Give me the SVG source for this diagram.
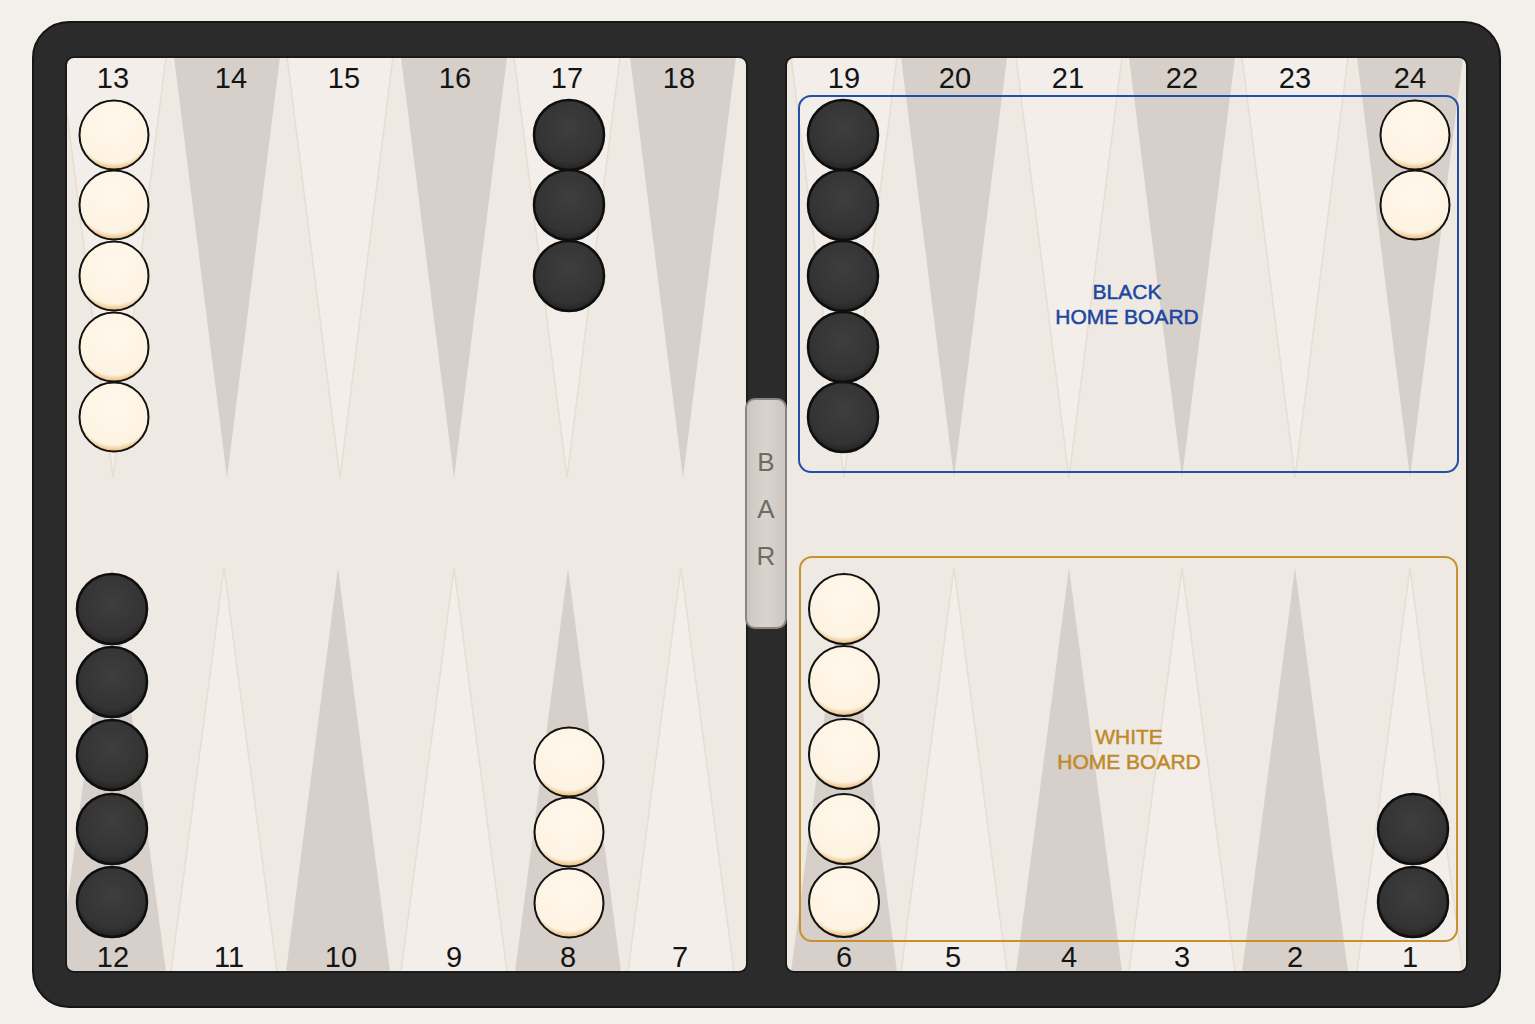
<svg xmlns="http://www.w3.org/2000/svg" width="1535" height="1024" viewBox="0 0 1535 1024">
<defs>
<style>
.num{font-family:"Liberation Sans",Arial,sans-serif;font-size:29px;fill:#141414;text-anchor:middle}
.bar{font-family:"Liberation Sans",Arial,sans-serif;font-size:26px;fill:#6e6a65;text-anchor:middle}
.hb{font-family:"Liberation Sans",Arial,sans-serif;font-size:21px;text-anchor:middle;stroke-width:0.5}
.dk{fill:#d6cfca}
.lt{fill:#f3eee9;stroke:#e6ddd3;stroke-width:1.5}
.cb{fill:url(#gb);stroke:#0e0e0e;stroke-width:2.5}
.cw{fill:url(#gw);stroke:#111;stroke-width:2}
</style>
<radialGradient id="gb" cx="0.5" cy="0.4" r="0.6">
<stop offset="0" stop-color="#3e3e3e"/><stop offset="0.8" stop-color="#333"/><stop offset="1" stop-color="#222"/>
</radialGradient>
<radialGradient id="gw" cx="0.5" cy="0.35" r="0.65">
<stop offset="0" stop-color="#fff8ec"/><stop offset="0.85" stop-color="#fdf3e2"/><stop offset="1" stop-color="#e8b870"/>
</radialGradient>
<linearGradient id="gbar" x1="0" y1="0" x2="1" y2="0">
<stop offset="0" stop-color="#cdc6c0"/><stop offset="0.5" stop-color="#dad4ce"/><stop offset="1" stop-color="#cdc6c0"/>
</linearGradient>
<clipPath id="cl"><rect x="66" y="57" width="681" height="915" rx="8"/></clipPath>
<clipPath id="cr"><rect x="786" y="57" width="681" height="915" rx="8"/></clipPath>
</defs>
<rect width="1535" height="1024" fill="#f3efeb"/>
<g id="frame">
<rect x="33" y="22" width="1467" height="985" rx="36" fill="#2b2b2b" stroke="#151515" stroke-width="2"/>
</g>
<g id="left-board" clip-path="url(#cl)">
<rect x="66" y="57" width="681" height="915" fill="#efe9e4"/>
<polygon class="lt" points="60,57 166,57 113,478"/>
<polygon class="dk" points="174,57 280,57 227,478"/>
<polygon class="lt" points="287,57 393,57 340,478"/>
<polygon class="dk" points="401,57 507,57 454,478"/>
<polygon class="lt" points="514,57 620,57 567,478"/>
<polygon class="dk" points="630,57 736,57 683,478"/>
<polygon class="dk" points="58,972 166,972 112,568"/>
<polygon class="lt" points="171,972 277,972 224,568"/>
<polygon class="dk" points="286,972 390,972 338,568"/>
<polygon class="lt" points="401,972 507,972 454,568"/>
<polygon class="dk" points="515,972 621,972 568,568"/>
<polygon class="lt" points="628,972 734,972 681,568"/>
</g>
<g id="right-board" clip-path="url(#cr)">
<rect x="786" y="57" width="681" height="915" fill="#efe9e4"/>
<polygon class="lt" points="791,57 897,57 844,478"/>
<polygon class="dk" points="901,57 1007,57 954,478"/>
<polygon class="lt" points="1016,57 1122,57 1069,478"/>
<polygon class="dk" points="1129,57 1235,57 1182,478"/>
<polygon class="lt" points="1242,57 1348,57 1295,478"/>
<polygon class="dk" points="1357,57 1463,57 1410,478"/>
<polygon class="dk" points="791,972 897,972 844,568"/>
<polygon class="lt" points="901,972 1007,972 954,568"/>
<polygon class="dk" points="1016,972 1122,972 1069,568"/>
<polygon class="lt" points="1129,972 1235,972 1182,568"/>
<polygon class="dk" points="1242,972 1348,972 1295,568"/>
<polygon class="lt" points="1357,972 1463,972 1410,568"/>
</g>
<g id="board-edges" fill="none" stroke="#1a1a1a" stroke-width="2">
<rect x="66" y="57" width="681" height="915" rx="8"/>
<rect x="786" y="57" width="681" height="915" rx="8"/>
</g>
<g id="bar">
<rect x="746" y="399" width="40" height="229" rx="9" fill="url(#gbar)" stroke="#8a8580" stroke-width="2"/>
<text class="bar" x="766" y="471">B</text>
<text class="bar" x="766" y="518">A</text>
<text class="bar" x="766" y="565">R</text>
</g>
<g id="black-home-board">
<rect x="799" y="96" width="659" height="376" rx="12" fill="none" stroke="#2050a8" stroke-width="2"/>
<text class="hb" x="1127" y="299" fill="#1c47a0" stroke="#1c47a0">BLACK</text>
<text class="hb" x="1127" y="324" fill="#1c47a0" stroke="#1c47a0">HOME BOARD</text>
</g>
<g id="white-home-board">
<rect x="800" y="557" width="657" height="384" rx="12" fill="none" stroke="#c8902e" stroke-width="2"/>
<text class="hb" x="1129" y="744" fill="#c08a2a" stroke="#c08a2a">WHITE</text>
<text class="hb" x="1129" y="769" fill="#c08a2a" stroke="#c08a2a">HOME BOARD</text>
</g>
<g id="point-labels">
<text class="num" x="113" y="88">13</text>
<text class="num" x="231" y="88">14</text>
<text class="num" x="344" y="88">15</text>
<text class="num" x="455" y="88">16</text>
<text class="num" x="567" y="88">17</text>
<text class="num" x="679" y="88">18</text>
<text class="num" x="844" y="88">19</text>
<text class="num" x="955" y="88">20</text>
<text class="num" x="1068" y="88">21</text>
<text class="num" x="1182" y="88">22</text>
<text class="num" x="1295" y="88">23</text>
<text class="num" x="1410" y="88">24</text>
<text class="num" x="113" y="967">12</text>
<text class="num" x="229" y="967">11</text>
<text class="num" x="341" y="967">10</text>
<text class="num" x="454" y="967">9</text>
<text class="num" x="568" y="967">8</text>
<text class="num" x="680" y="967">7</text>
<text class="num" x="844" y="967">6</text>
<text class="num" x="953" y="967">5</text>
<text class="num" x="1069" y="967">4</text>
<text class="num" x="1182" y="967">3</text>
<text class="num" x="1295" y="967">2</text>
<text class="num" x="1410" y="967">1</text>
</g>
<g id="checkers-point-13">
<circle class="cw" cx="114" cy="135" r="34.5"/>
<circle class="cw" cx="114" cy="205" r="34.5"/>
<circle class="cw" cx="114" cy="276" r="34.5"/>
<circle class="cw" cx="114" cy="347" r="34.5"/>
<circle class="cw" cx="114" cy="417" r="34.5"/>
</g>
<g id="checkers-point-17">
<circle class="cb" cx="569" cy="135" r="35"/>
<circle class="cb" cx="569" cy="205" r="35"/>
<circle class="cb" cx="569" cy="276" r="35"/>
</g>
<g id="checkers-point-12">
<circle class="cb" cx="112" cy="609" r="35"/>
<circle class="cb" cx="112" cy="682" r="35"/>
<circle class="cb" cx="112" cy="755" r="35"/>
<circle class="cb" cx="112" cy="829" r="35"/>
<circle class="cb" cx="112" cy="902" r="35"/>
</g>
<g id="checkers-point-8">
<circle class="cw" cx="569" cy="762" r="34.5"/>
<circle class="cw" cx="569" cy="832" r="34.5"/>
<circle class="cw" cx="569" cy="903" r="34.5"/>
</g>
<g id="checkers-point-19">
<circle class="cb" cx="843" cy="135" r="35"/>
<circle class="cb" cx="843" cy="205" r="35"/>
<circle class="cb" cx="843" cy="276" r="35"/>
<circle class="cb" cx="843" cy="347" r="35"/>
<circle class="cb" cx="843" cy="417" r="35"/>
</g>
<g id="checkers-point-24">
<circle class="cw" cx="1415" cy="135" r="34.5"/>
<circle class="cw" cx="1415" cy="205" r="34.5"/>
</g>
<g id="checkers-point-6">
<circle class="cw" cx="844" cy="609" r="35"/>
<circle class="cw" cx="844" cy="681" r="35"/>
<circle class="cw" cx="844" cy="754" r="35"/>
<circle class="cw" cx="844" cy="829" r="35"/>
<circle class="cw" cx="844" cy="902" r="35"/>
</g>
<g id="checkers-point-1">
<circle class="cb" cx="1413" cy="829" r="35"/>
<circle class="cb" cx="1413" cy="902" r="35"/>
</g>
</svg>
